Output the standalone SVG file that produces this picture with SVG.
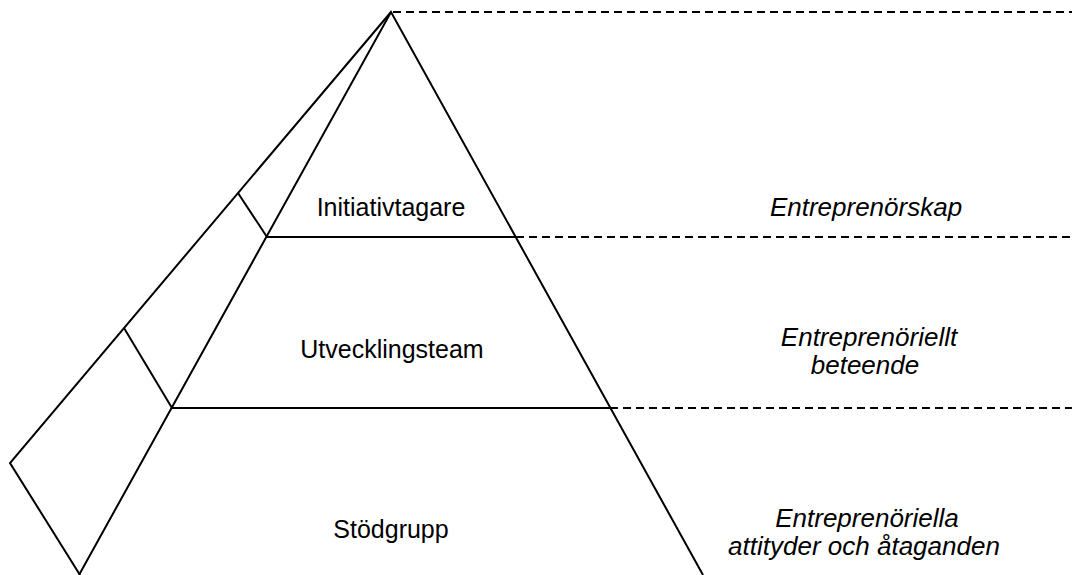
<svg xmlns="http://www.w3.org/2000/svg" width="1072" height="575" viewBox="0 0 1072 575">
<style>
.ln{stroke:#000;stroke-width:2;fill:none;stroke-linecap:butt}
.dash{stroke:#000;stroke-width:2;fill:none;stroke-dasharray:8 5}
.lbl{font-family:"Liberation Sans",Arial,sans-serif;font-size:25px;fill:#000;text-anchor:middle}
.it{font-family:"Liberation Sans",Arial,sans-serif;font-size:26px;fill:#000;text-anchor:middle;font-style:italic}
</style>
<rect width="1072" height="575" fill="#fff"/>
<g id="connectors">
<path class="ln" d="M391,12 L10,463 L80,575"/>
<path class="ln" d="M238,193 L267,237"/>
<path class="ln" d="M124,328 L172,408"/>
<path class="dash" d="M393,12 H1072"/>
<path class="dash" d="M516,237 H1072"/>
<path class="dash" d="M610,408 H1072"/>
</g>
<g id="pyramid">
<path class="ln" d="M79,575 L391,12 L703,575"/>
<path class="ln" d="M267,237 H516"/>
<path class="ln" d="M172,408 H610"/>
</g>
<g id="level1"><text class="lbl" x="391" y="216">Initiativtagare</text></g>
<g id="level2"><text class="lbl" x="392" y="358">Utvecklingsteam</text></g>
<g id="level3"><text class="lbl" x="391" y="538">Stödgrupp</text></g>
<g id="label1"><text class="it" x="866" y="216">Entreprenörskap</text></g>
<g id="label2"><text class="it" x="869" y="346">Entreprenöriellt</text><text class="it" x="865" y="374">beteende</text></g>
<g id="label3"><text class="it" x="867" y="527">Entreprenöriella</text><text class="it" x="864" y="555">attityder och åtaganden</text></g>
</svg>
